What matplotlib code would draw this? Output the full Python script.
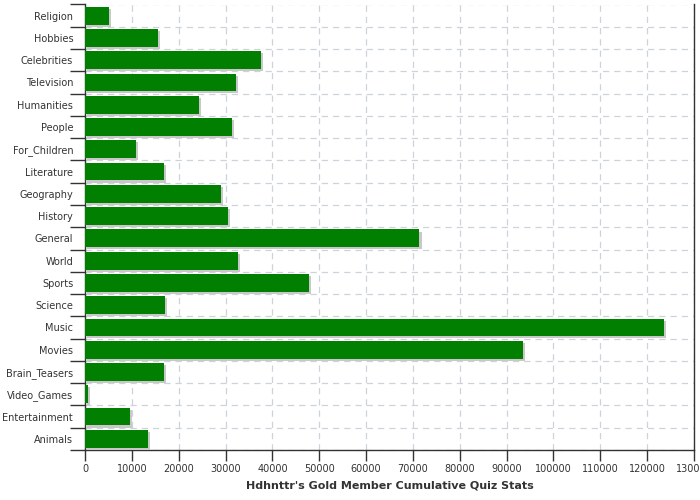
import numpy as np
import matplotlib
matplotlib.use('Agg')
import matplotlib.pyplot as plt
import matplotlib.patheffects as pe

# categorias de arriba hacia abajo
categories = ['Religion', 'Hobbies', 'Celebrities', 'Television', 'Humanities',
              'People', 'For_Children', 'Literature', 'Geography', 'History',
              'General', 'World', 'Sports', 'Science', 'Music', 'Movies',
              'Brain_Teasers', 'Video_Games', 'Entertainment', 'Animals']
values = [5100, 15500, 37500, 32200, 24300,
          31300, 10900, 16800, 29000, 30500,
          71400, 32600, 47800, 17100, 123500, 93500,
          16800, 600, 9600, 13400]
xticks = list(range(0, 130001, 10000))
title = "Hdhnttr's Gold Member Cumulative Quiz Stats"

txt = '#333333'
grid_c = '#cdd3d9'

fig = plt.figure(figsize=(7, 5), dpi=100)
ax = fig.add_axes([85/700, 0.1, (694-85)/700, (450-4.5)/500])

y = np.arange(len(categories))
bars = ax.barh(y, values, height=0.8, color='#007f00', zorder=3)
for b in bars:
    b.set_path_effects([pe.SimplePatchShadow(offset=(1.5, -1.5), shadow_rgbFace='#c8c8c8', alpha=1.0),
                        pe.Normal()])

ax.set_ylim(len(categories) - 0.5, -0.5)
ax.set_xlim(0, 130000)

# etiquetas centradas, ticks en los bordes
ax.set_yticks(y)
ax.set_yticklabels(categories)
ax.tick_params(axis='y', which='major', length=0, pad=8.5, labelsize=7, labelcolor=txt)
ax.set_yticks(np.arange(-0.5, len(categories)), minor=True)
ax.tick_params(axis='y', which='minor', length=11, width=1, color=txt)

ax.set_xticks(xticks)
ax.set_xticklabels([str(v) for v in xticks])
ax.tick_params(axis='x', length=8, width=1, color=txt, labelsize=7, labelcolor=txt, pad=2)

ax.grid(True, axis='x', which='major', linestyle=(0, (5, 4)), color=grid_c, linewidth=0.9, zorder=0)
ax.grid(True, axis='y', which='minor', linestyle=(0, (5, 4)), color=grid_c, linewidth=0.9, zorder=0)

ax.spines['top'].set_visible(False)
for s in ['left', 'bottom', 'right']:
    ax.spines[s].set_color(txt)
    ax.spines[s].set_linewidth(1)

ax.set_xlabel(title, fontsize=8, fontweight='bold', color=txt, labelpad=5)

fig.savefig('out.png', dpi=100)
